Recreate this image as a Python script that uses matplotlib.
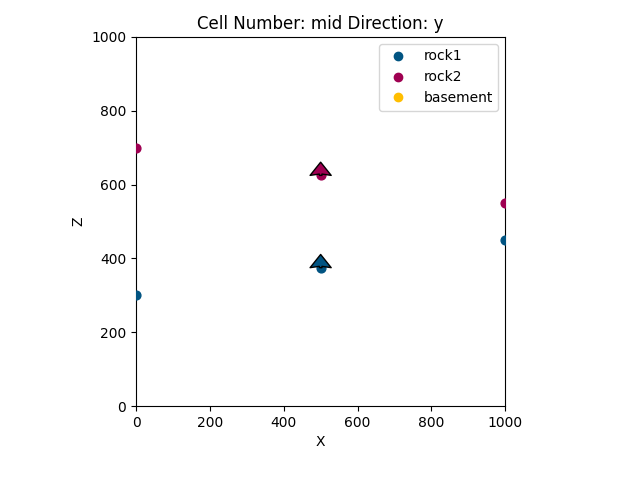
import matplotlib
matplotlib.use("Agg")
import matplotlib.pyplot as plt
import numpy as np

# surface points
rock1_x = [0, 500, 1000]
rock1_z = [300, 375, 450]
rock2_x = [0, 500, 1000]
rock2_z = [700, 625, 550]

# orientations (tail position and gradient)
ori_x = [500, 500]
ori_z = [375, 625]
ori_gx = [0, 0]
ori_gz = [1, 1]
ori_names = ["rock1", "rock2"]

colors = {"rock1": "#015482", "rock2": "#9f0052", "basement": "#ffbe00"}

fig = plt.figure(figsize=(6.4, 4.8), dpi=100)
ax = fig.add_axes([0.2125, 0.154, 0.577, 0.769])

ax.scatter(rock1_x, rock1_z, color=colors["rock1"], s=40, zorder=3)
ax.scatter(rock2_x, rock2_z, color=colors["rock2"], s=40, zorder=3)
for name in ["rock1", "rock2", "basement"]:
    ax.plot([], [], "o", color=colors[name], label=name)

ax.quiver(ori_x, ori_z, ori_gx, ori_gz,
          color=[colors[n] for n in ori_names], edgecolor="k", linewidth=1,
          pivot="tail", angles="xy", scale_units="xy", scale=0.028,
          width=0.0072, headwidth=8, headlength=5, headaxislength=4.5, zorder=4)

ax.set_xlim(0, 1000)
ax.set_ylim(0, 1000)
ax.set_aspect("equal")
ax.set_xlabel("X")
ax.set_ylabel("Z")
ax.set_title("Cell Number: mid Direction: y")
ax.legend(loc="upper right")

fig.savefig("out.png")
